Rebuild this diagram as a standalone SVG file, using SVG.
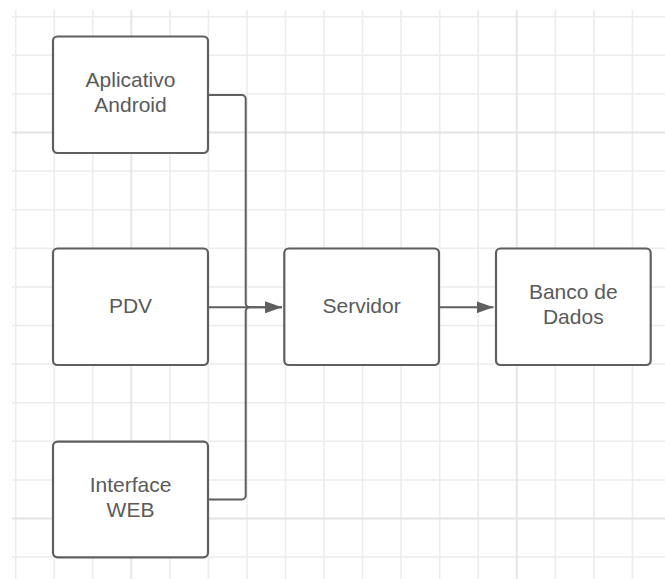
<svg xmlns="http://www.w3.org/2000/svg" width="665" height="579" viewBox="0 0 665 579">
  <style>
    .grid { stroke: #ececec; stroke-width: 1.5; fill: none; }
    .grid-major { stroke: #e4e4e4; stroke-width: 1.8; fill: none; }
    .node rect { fill: #ffffff; stroke: #5f5f5f; stroke-width: 2.2; }
    .node text { font-family: "Liberation Sans", Arial, sans-serif; font-size: 21px; fill: #5a5a5a; text-anchor: middle; }
    .edge { fill: none; stroke: #5f5f5f; stroke-width: 2; }
  </style>
  <defs>
    <marker id="arrow" viewBox="0 0 17 12" refX="17" refY="6" markerWidth="17" markerHeight="12" markerUnits="userSpaceOnUse" orient="auto">
      <path d="M0,0 L17,6 L0,12 Z" fill="#5f5f5f"/>
    </marker>
  </defs>

  <rect width="665" height="579" fill="#ffffff"/>

  <!-- background grid -->
  <g id="grid">
    <path class="grid" d="M15.7,10V579 M54.3,10V579 M92.8,10V579 M169.9,10V579 M208.4,10V579 M247,10V579 M285.5,10V579 M324,10V579 M362.6,10V579 M401.1,10V579 M439.7,10V579 M478.2,10V579 M555.3,10V579 M593.9,10V579 M632.4,10V579
      M12,16.7H665 M12,55.3H665 M12,93.9H665 M12,171.1H665 M12,209.7H665 M12,248.3H665 M12,286.9H665 M12,325.5H665 M12,364.1H665 M12,402.7H665 M12,441.3H665 M12,479.9H665 M12,557.1H665"/>
    <path class="grid-major" d="M131.3,10V579 M516.8,10V579 M12,132.5H665 M12,518.5H665"/>
  </g>

  <!-- connectors -->
  <g id="connectors">
    <path class="edge" d="M208,95 H241.7 A4,4 0 0 1 245.7,99 V303.3 A4,4 0 0 0 249.7,307.3 H282"/>
    <path class="edge" d="M208,499.5 H241.7 A4,4 0 0 0 245.7,495.5 V311.3 A4,4 0 0 1 249.7,307.3"/>
    <path class="edge" d="M208,307.3 H282" marker-end="url(#arrow)"/>
    <path class="edge" d="M439,307.3 H493.5" marker-end="url(#arrow)"/>
  </g>

  <!-- nodes -->
  <g id="aplicativo-android" class="node">
    <rect x="53" y="36.5" width="155" height="116.5" rx="4.5"/>
    <text x="130.5" y="87.3">Aplicativo</text>
    <text x="130.5" y="111.7">Android</text>
  </g>
  <g id="pdv" class="node">
    <rect x="53" y="248.5" width="155" height="116.5" rx="4.5"/>
    <text x="130.5" y="312.7">PDV</text>
  </g>
  <g id="interface-web" class="node">
    <rect x="53" y="441.7" width="155" height="115.6" rx="4.5"/>
    <text x="130.5" y="491.8">Interface</text>
    <text x="130.5" y="516.8">WEB</text>
  </g>
  <g id="servidor" class="node">
    <rect x="284.3" y="248.5" width="154.7" height="116.5" rx="4.5"/>
    <text x="361.6" y="312.7">Servidor</text>
  </g>
  <g id="banco-de-dados" class="node">
    <rect x="496" y="248.5" width="154.7" height="116.5" rx="4.5"/>
    <text x="573.3" y="298.8">Banco de</text>
    <text x="573.3" y="323.5">Dados</text>
  </g>
</svg>
